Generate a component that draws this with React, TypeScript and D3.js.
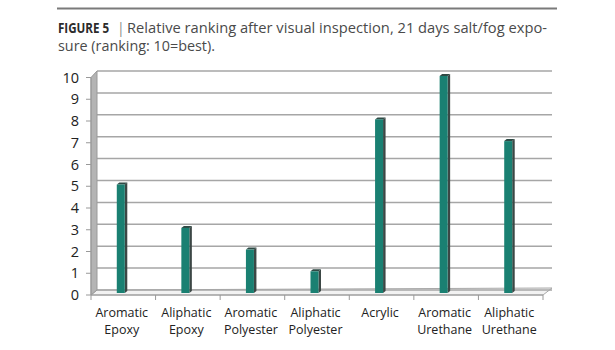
import React from "react";
import * as d3 from "d3";

const categories = [
  "Aromatic Epoxy",
  "Aliphatic Epoxy",
  "Aromatic Polyester",
  "Aliphatic Polyester",
  "Acrylic",
  "Aromatic Urethane",
  "Aliphatic Urethane",
];
const rankings = [5, 3, 2, 1, 8, 10, 7];
const yTicks = [0, 1, 2, 3, 4, 5, 6, 7, 8, 9, 10];
const titleBold = "FIGURE 5";
const titleLine1 = "Relative ranking after visual inspection, 21 days salt/fog expo-";
const titleLine2 = "sure (ranking: 10=best).";

const W = 615;
const H = 350;
const FONT = "'Open Sans', 'Noto Sans', sans-serif";

export default function App() {
  const x = d3.scaleBand<string>().domain(categories).range([91, 543]);
  const yFront = d3.scaleLinear().domain([0, 10]).range([295, 77.5]);
  const yBack = d3.scaleLinear().domain([0, 10]).range([290, 71]);
  const yBar = d3.scaleLinear().domain([0, 10]).range([293, 76]);
  const backX0 = 97;
  const backX1 = 552;

  const barHalf = 4;
  const sideW = 2.5;
  const sideH = 2;

  return (
    <svg
      width={W}
      height={H}
      style={{ position: "absolute", left: 0, top: 0, background: "#fff" }}
      fontFamily={FONT}
    >
      <rect width={W} height={H} fill="#fff" />
      {/* title */}
      <line x1={57} x2={557} y1={8.5} y2={8.5} stroke="#7a7a7a" strokeWidth={2} />
      <text
        x={0}
        y={0}
        fontSize={14.5}
        fontWeight={700}
        fill="#2b2b2b"
        transform="translate(58,32.5) scale(0.8,1)"
      >
        {titleBold}
      </text>
      <text x={117} y={32.5} fontSize={14} fill="#8a8a8a">
        |
      </text>
      <text
        x={127}
        y={32.5}
        fontSize={14}
        fill="#4a4a4a"
        textLength={420}
        lengthAdjust="spacingAndGlyphs"
      >
        {titleLine1}
      </text>
      <text
        x={58}
        y={50.5}
        fontSize={14}
        fill="#4a4a4a"
        textLength={157}
        lengthAdjust="spacingAndGlyphs"
      >
        {titleLine2}
      </text>

      {/* floor */}
      <polygon
        points={`91,${yFront(0)} ${backX0},${yBack(0)} ${backX1},${yBack(0) - 2} 543,${yFront(0)}`}
        fill="#f2f2f2"
        stroke="#a8a8a8"
        strokeWidth={1}
      />
      {/* back wall gridlines */}
      {yTicks.map((t) => (
        <line
          key={"g" + t}
          x1={backX0}
          x2={backX1}
          y1={yBack(t)}
          y2={yBack(t)}
          stroke="#a6a6a6"
          strokeWidth={1.5}
        />
      ))}
      {/* left wall */}
      <polygon
        points={`91,${yFront(0)} 91,${yFront(10)} ${backX0},${yBack(10)} ${backX0},${yBack(0)}`}
        fill="#b4b4b4"
        stroke="#9a9a9a"
        strokeWidth={1}
      />
      {/* y axis ticks & labels */}
      <line x1={91} x2={91} y1={yFront(10)} y2={yFront(0)} stroke="#999" strokeWidth={1} />
      {yTicks.map((t) => (
        <g key={"t" + t}>
          <line x1={86} x2={91} y1={yFront(t)} y2={yFront(t)} stroke="#999" strokeWidth={1} />
          <text x={79} y={yFront(t) + 5} fontSize={14.5} textAnchor="end" fill="#222">
            {t}
          </text>
        </g>
      ))}
      {/* x axis */}
      <line x1={91} x2={543} y1={yFront(0)} y2={yFront(0)} stroke="#999" strokeWidth={1} />
      {categories.map((c, i) => (
        <line
          key={"xt" + i}
          x1={(x(c) as number) + x.bandwidth()}
          x2={(x(c) as number) + x.bandwidth()}
          y1={yFront(0)}
          y2={yFront(0) + 5}
          stroke="#999"
          strokeWidth={1}
        />
      ))}
      <line x1={91} x2={91} y1={yFront(0)} y2={yFront(0) + 5} stroke="#999" strokeWidth={1} />

      {/* bars */}
      {categories.map((c, i) => {
        const cx = (x(c) as number) + x.bandwidth() / 2 - 2.5;
        const top = yBar(rankings[i]);
        const bot = yBar(0);
        const l = cx - barHalf;
        const r = cx + barHalf;
        return (
          <g key={"b" + i}>
            <polygon
              points={`${r},${bot} ${r + sideW},${bot - sideH} ${r + sideW},${top - sideH} ${r},${top}`}
              fill="#3c4745"
            />
            <polygon
              points={`${l},${top} ${l + sideW},${top - sideH} ${r + sideW},${top - sideH} ${r},${top}`}
              fill="#2f4a45"
            />
            <rect x={l} y={top} width={r - l} height={bot - top} fill="#1a8072" />
          </g>
        );
      })}

      {/* category labels */}
      {categories.map((c, i) => {
        const cx = (x(c) as number) + x.bandwidth() / 2 - 1.5;
        const words = c.split(" ");
        return words.map((w, j) => (
          <text
            key={"l" + i + "-" + j}
            x={cx}
            y={316.5 + j * 17}
            fontSize={12.5}
            textAnchor="middle"
            fill="#222"
          >
            {w}
          </text>
        ));
      })}
    </svg>
  );
}
